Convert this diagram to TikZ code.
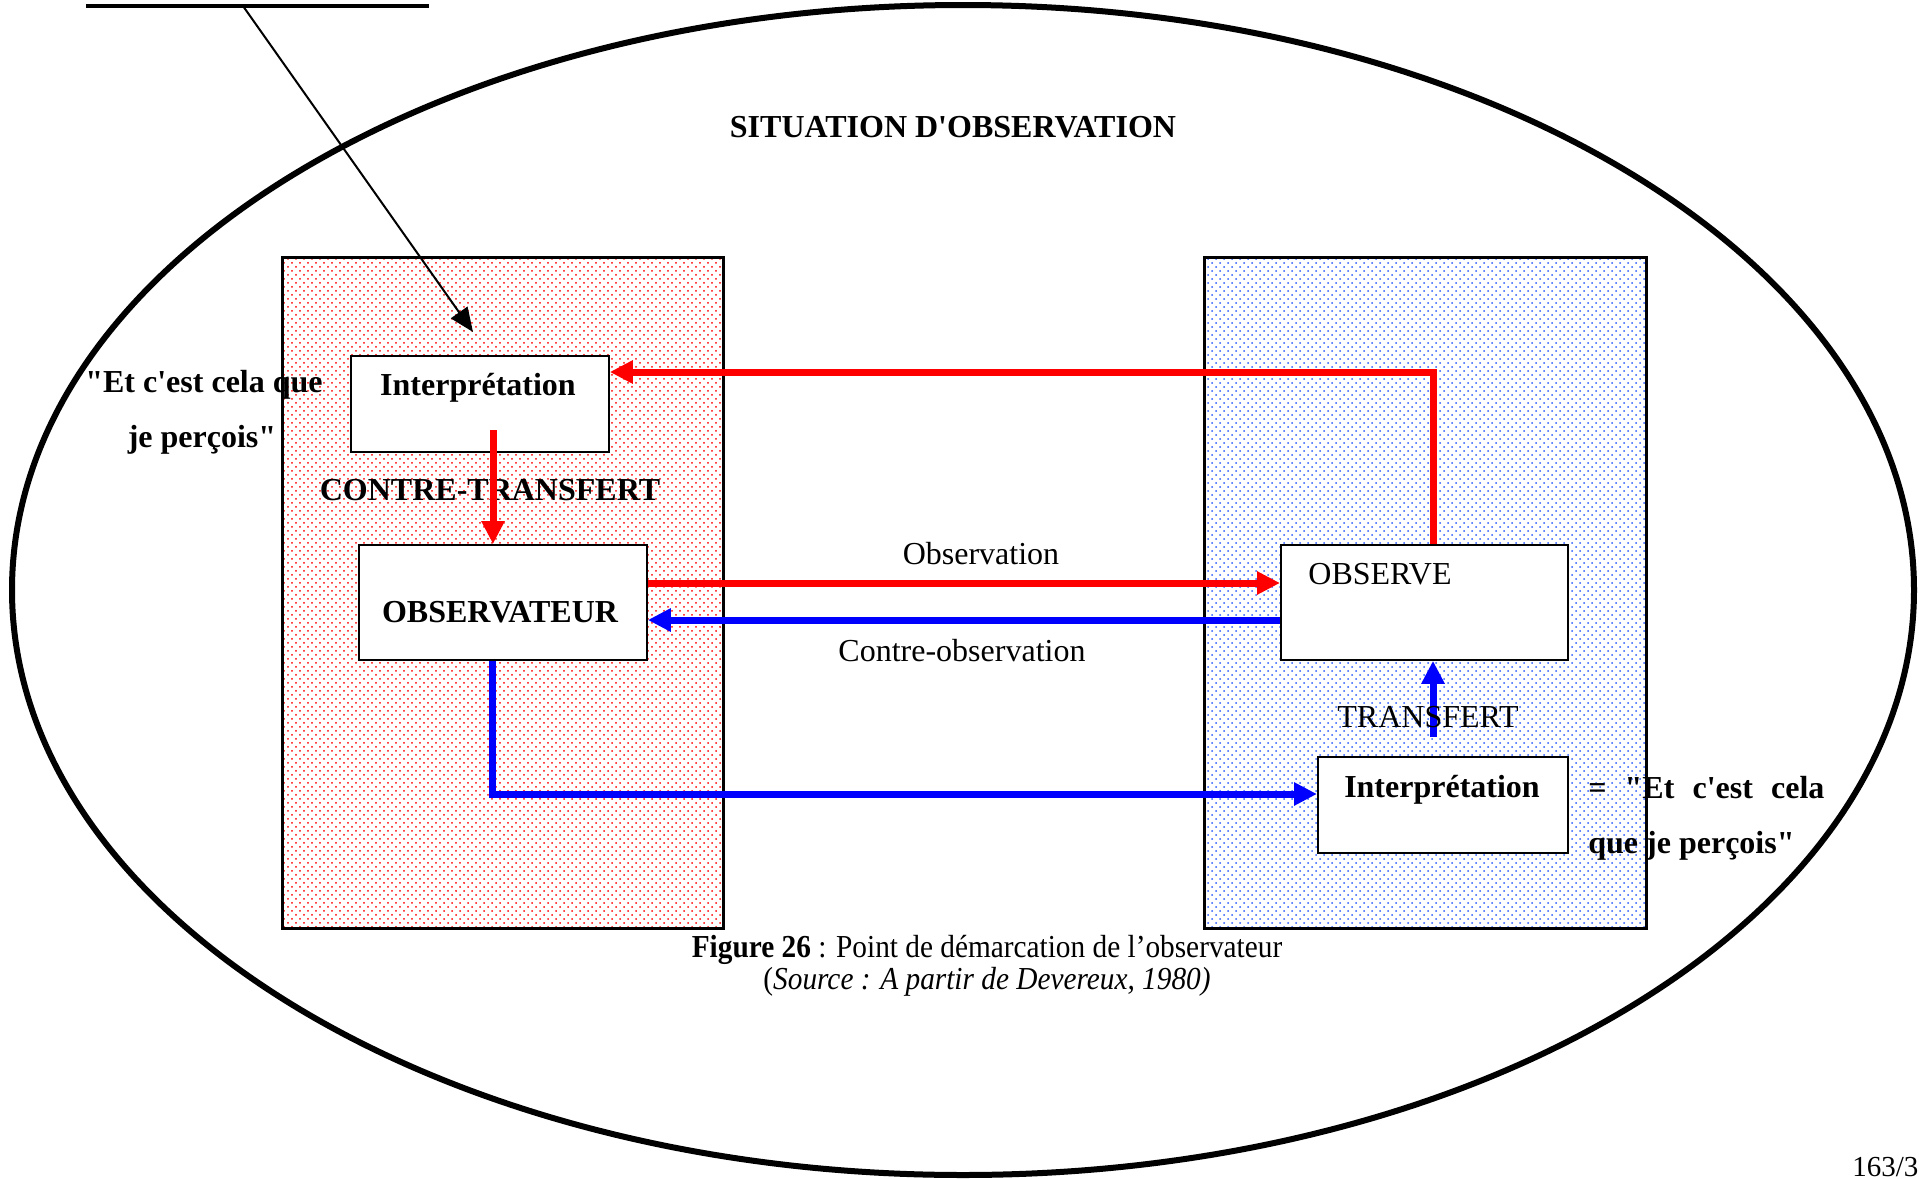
\documentclass[tikz,border=0pt]{standalone}
\usepackage{fontspec}
\usepackage{graphicx}
\setmainfont{Liberation Serif}[Ligatures=TeXOff]
\usetikzlibrary{arrows.meta,patterns}
\pgfdeclarepatternformonly{sparsedots}{\pgfqpoint{-1pt}{-1pt}}{\pgfqpoint{5pt}{5pt}}{\pgfqpoint{4pt}{4pt}}{%
  \pgfpathcircle{\pgfqpoint{0pt}{0pt}}{0.5pt}%
  \pgfpathcircle{\pgfqpoint{2pt}{2pt}}{0.5pt}%
  \pgfusepath{fill}}
\tikzset{
  box/.style={draw=black, line width=0.9pt, fill=white, inner sep=0pt, anchor=north west},
  region/.style={draw=black, line width=1.4pt, inner sep=0pt, anchor=north west, pattern=sparsedots},
  lbl/.style={font=\fontsize{16pt}{19pt}\selectfont, inner sep=0pt, anchor=base},
  lblb/.style={font=\fontsize{16pt}{19pt}\selectfont\bfseries, inner sep=0pt, anchor=base},
  redarrow/.style={draw=red, line width=3.5pt, -{Triangle[length=11.5pt,width=11pt]}},
  bluearrow/.style={draw=blue, line width=3.5pt, -{Triangle[length=11.5pt,width=11pt]}},
  leader/.style={draw=black, line width=1pt, -{Triangle[length=12pt,width=10pt]}},
}
\begin{document}
\begin{tikzpicture}[x=0.5pt,y=-0.5pt]
\useasboundingbox (0,0) rectangle (1919,1179);
% outer ellipse
\draw[line width=3pt] (963,590) ellipse [x radius=475.5pt, y radius=292.5pt];
% regions
\node[region, pattern color=red, minimum width=220.5pt, minimum height=335.5pt] (left) at (281,256) {};
\node[region, pattern color={rgb,255:red,40;green,90;blue,255}, minimum width=221pt, minimum height=335.5pt] (right) at (1203,256) {};
% boxes
\node[box, minimum width=129pt, minimum height=48pt] (interp1) at (350,355) {};
\node[box, minimum width=144pt, minimum height=57.5pt] (obsv) at (358,544) {};
\node[box, minimum width=143.5pt, minimum height=57.5pt] (obsbox) at (1280,544) {};
\node[box, minimum width=125pt, minimum height=48pt] (interp2) at (1317,756) {};
% texts
\node[lblb] (title) at (953,137) {SITUATION D'OBSERVATION};
\node[lblb] (interp1t) at (478,395) {Interprétation};
\node[lblb] (ct) at (490,500) {CONTRE-TRANSFERT};
\node[lblb] (obsvt) at (500,622) {OBSERVATEUR};
\node[lbl, anchor=base west] (obsboxt) at (1308,584) {OBSERVE};
\node[lbl] (obst) at (981,564) {Observation};
\node[lbl] (cobst) at (962,661) {Contre-observation};
\node[lblb] (interp2t) at (1442,797) {Interprétation};
\node[lblb] (lq1) at (204,392) {"Et c'est cela que};
\node[lblb] (lq2) at (202,447) {je perçois"};
\node[lblb, anchor=base west] (rq1) at (1588,798) {\makebox[118pt][s]{= "Et c'est cela}};
\node[lblb, anchor=base west] (rq2) at (1588,853) {que je perçois"};
\node[lbl] (cap1) at (987,957) {\scalebox{0.916}[1]{\textbf{Figure 26} : Point de démarcation de l’observateur}};
\node[lbl] (cap2) at (987,989) {\scalebox{0.916}[1]{(\textit{Source : A partir de Devereux, 1980)}}};
\node[lbl, anchor=base west, font=\fontsize{14.5pt}{17pt}\selectfont] (pg) at (1852,1176) {163/3};
% helper coordinates
\coordinate (xr) at (1433,372);
\coordinate (ya) at (0,583);
\coordinate (yb) at (0,620);
\coordinate (xb) at (492,794);
\coordinate (ctstart) at (493,430);
\coordinate (tstart) at (1433,737);
\coordinate (lead1) at (243,6);
\coordinate (lead2) at (473,332);
\coordinate (ul1) at (86,6);
\coordinate (ul2) at (429,6);
% connectors
\draw[redarrow] (obsbox.north -| xr) |- (interp1.east |- xr);
\draw[redarrow] (ctstart) -- (obsv.north -| ctstart);
\draw[redarrow] (obsv.east |- ya) -- (obsbox.west |- ya);
\draw[bluearrow] (obsbox.west |- yb) -- (obsv.east |- yb);
\draw[bluearrow] (obsv.south -| xb) |- (interp2.west |- xb);
\draw[bluearrow] (tstart) -- (obsbox.south -| tstart);
\node[lbl] (tr) at (1428,727) {TRANSFERT};
\draw[leader] (lead1) -- (lead2);
\draw[line width=2pt] (ul1) -- (ul2);
\end{tikzpicture}
\end{document}
